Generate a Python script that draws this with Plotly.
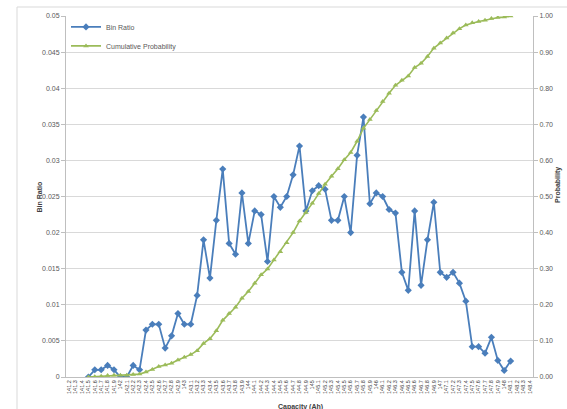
import plotly.graph_objects as go

# Capacity bins (Ah) shown along the category axis
cap_labels = [
    "141.2", "141.3", "141.4", "141.5", "141.6", "141.7", "141.8", "141.9",
    "142", "142.1", "142.2", "142.3", "142.4", "142.5", "142.6", "142.7", "142.8", "142.9",
    "143", "143.1", "143.2", "143.3", "143.4", "143.5", "143.6", "143.7", "143.8", "143.9",
    "144", "144.1", "144.2", "144.3", "144.4", "144.5", "144.6", "144.7", "144.8", "144.9",
    "145", "145.1", "145.2", "145.3", "145.4", "145.5", "145.6", "145.7", "145.8", "145.9",
    "146", "146.1", "146.2", "146.3", "146.4", "146.5", "146.6", "146.7", "146.8", "146.9",
    "147", "147.1", "147.2", "147.3", "147.4", "147.5", "147.6", "147.7", "147.8", "147.9",
    "148", "148.1", "148.2", "148.3", "148.4",
]

# Bins that hold measurements
data_bins = cap_labels[3:70]

bin_ratio = [
    0.0, 0.001, 0.001, 0.0016, 0.001, 0.0, 0.0, 0.0016, 0.001, 0.0065,
    0.0073, 0.0073, 0.004, 0.0057, 0.0088, 0.0073, 0.0073, 0.0113, 0.019, 0.0137,
    0.0217, 0.0288, 0.0185, 0.017, 0.0255, 0.0185, 0.023, 0.0225, 0.016, 0.025,
    0.0235, 0.025, 0.028, 0.032, 0.023, 0.0258, 0.0265, 0.026, 0.0217, 0.0217,
    0.025, 0.02, 0.0307, 0.036, 0.024, 0.0255, 0.025, 0.0232, 0.0227, 0.0145,
    0.012, 0.023, 0.0127, 0.019, 0.0242, 0.0145, 0.0138, 0.0145, 0.013, 0.0105,
    0.0042, 0.0042, 0.0033, 0.0055, 0.0023, 0.0009, 0.0022,
]

cumulative_prob = [
    0.000, 0.001, 0.002, 0.004, 0.005, 0.005, 0.005, 0.007, 0.008, 0.014,
    0.021, 0.029, 0.033, 0.038, 0.047, 0.055, 0.062, 0.073, 0.093, 0.106,
    0.128, 0.157, 0.176, 0.193, 0.218, 0.237, 0.260, 0.283, 0.299, 0.324,
    0.347, 0.372, 0.400, 0.432, 0.456, 0.481, 0.508, 0.534, 0.556, 0.577,
    0.602, 0.622, 0.653, 0.689, 0.713, 0.738, 0.763, 0.786, 0.808, 0.822,
    0.834, 0.857, 0.869, 0.888, 0.911, 0.925, 0.939, 0.953, 0.965, 0.975,
    0.981, 0.985, 0.988, 0.993, 0.996, 0.997, 1.000,
]

ratio_ticks = [0, 0.005, 0.01, 0.015, 0.02, 0.025, 0.03, 0.035, 0.04, 0.045, 0.05]
ratio_ticktext = ["0", "0.005", "0.01", "0.015", "0.02", "0.025", "0.03", "0.035", "0.04", "0.045", "0.05"]

BLUE = "#4A7EBB"
GREEN = "#9BBB59"
TXT = "#595959"
FONT = "Liberation Sans"

fig = go.Figure()
fig.add_trace(go.Scatter(
    x=data_bins, y=bin_ratio, name="Bin Ratio", mode="lines+markers",
    line=dict(color=BLUE, width=1.8),
    marker=dict(symbol="diamond", size=5.5, color=BLUE),
    yaxis="y",
))
fig.add_trace(go.Scatter(
    x=data_bins, y=cumulative_prob, name="Cumulative Probability", mode="lines+markers",
    line=dict(color=GREEN, width=1.6),
    marker=dict(symbol="triangle-up", size=5, color=GREEN),
    yaxis="y2",
))

fig.update_layout(
    width=567, height=409,
    margin=dict(l=66, r=34, t=16, b=32),
    paper_bgcolor="white", plot_bgcolor="white",
    font=dict(family=FONT, size=7, color=TXT),
    showlegend=True,
    legend=dict(
        x=0.0, y=1.01, xanchor="left", yanchor="top",
        bgcolor="rgba(0,0,0,0)", font=dict(size=7, color=TXT),
        itemwidth=30, tracegroupgap=0,
    ),
    xaxis=dict(
        type="category", categoryorder="array", categoryarray=cap_labels,
        tickmode="array", tickvals=cap_labels, ticktext=cap_labels,
        range=[-0.5, len(cap_labels) - 0.5],
        tickangle=-90, tickfont=dict(size=5.5, color="#404040"),
        showgrid=False, showline=True, linecolor="#BFBFBF", linewidth=1,
        ticks="", automargin=False,
    ),
    yaxis=dict(
        range=[0, 0.05], tickmode="array", tickvals=ratio_ticks, ticktext=ratio_ticktext,
        showgrid=True, gridcolor="#D9D9D9", gridwidth=1,
        showline=True, linecolor="#BFBFBF", linewidth=1,
        ticks="outside", ticklen=4, tickcolor="#BFBFBF",
        tickfont=dict(size=7, color=TXT), zeroline=False, automargin=False,
    ),
    yaxis2=dict(
        range=[0, 1], dtick=0.1, tick0=0, tickformat=".2f",
        overlaying="y", side="right", showgrid=False,
        showline=True, linecolor="#BFBFBF", linewidth=1,
        ticks="outside", ticklen=4, tickcolor="#BFBFBF",
        tickfont=dict(size=7, color=TXT), zeroline=False, automargin=False,
    ),
    annotations=[
        dict(text="<b>Bin Ratio</b>", xref="paper", yref="paper",
             x=(33 - 66) / 467, y=(377 - 197) / 361, textangle=-90,
             showarrow=False, font=dict(size=7, color="#404040")),
        dict(text="<b>Probability</b>", xref="paper", yref="paper",
             x=(564 - 66) / 467, y=(377 - 185) / 361, textangle=-90,
             showarrow=False, font=dict(size=7, color="#404040")),
        dict(text="<b>Capacity (Ah)</b>", xref="paper", yref="paper",
             x=(300 - 66) / 467, y=(377 - 401) / 361, yanchor="top",
             showarrow=False, font=dict(size=7, color="#404040")),
    ],
    shapes=[
        dict(type="rect", xref="paper", yref="paper",
             x0=(17 - 66) / 467, x1=(600 - 66) / 467,
             y0=(377 - 440) / 361, y1=(377 - 7) / 361,
             line=dict(color="#D9D9D9", width=1), fillcolor="rgba(0,0,0,0)",
             layer="below"),
    ],
)

fig.write_html("out.html")
